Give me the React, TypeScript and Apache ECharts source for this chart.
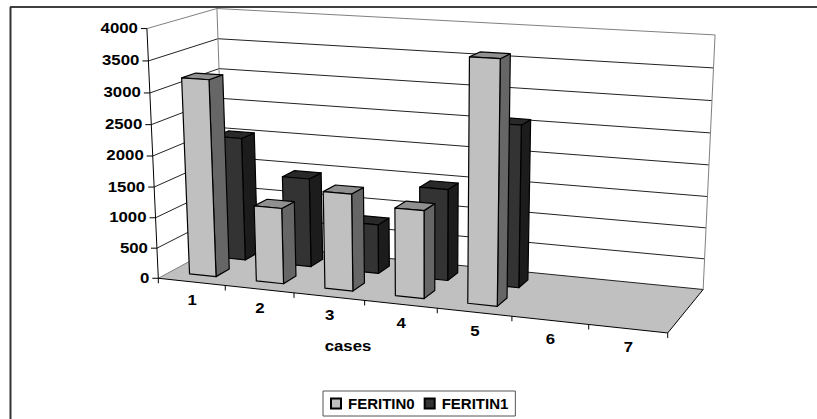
import React, { useEffect, useRef } from "react";
import * as echarts from "echarts";

const categories = ["1", "2", "3", "4", "5", "6", "7"];
const yTicks = [0, 500, 1000, 1500, 2000, 2500, 3000, 3500, 4000];
const feritin0 = [3190, 1230, 1560, 1400, 3790];
const feritin1 = [2050, 1470, 810, 1490, 2600];

const GW = 700, GH = 400;
const FONT = "'Liberation Sans', Arial, sans-serif";

// Camera calibration: cube corners (u, v, w in 0..1) -> picture pixels
const calib: number[][] = [
  [0, 0, 0, 158, 278],
  [0, 1, 0, 147, 29],
  [0, 1, 1, 217, 8],
  [1, 1, 1, 715, 35],
  [1, 0, 1, 703, 289],
  [1, 0, 0, 668, 333],
  [0, 0, 1, 225, 243],
  [1 / 7, 0, 0, 226, 285],
  [3 / 7, 0, 0, 364, 300],
  [5 / 7, 0, 0, 512, 317],
  [0, 0.5, 0, 152.5, 156],
  [1, 0.5, 1, 709, 165],
];

function solveCamera(): number[] {
  const rows: number[][] = [];
  const rhs: number[] = [];
  for (const [u, v, w, x, y] of calib) {
    rows.push([u, v, w, 1, 0, 0, 0, 0, -x * u, -x * v, -x * w]);
    rhs.push(x);
    rows.push([0, 0, 0, 0, u, v, w, 1, -y * u, -y * v, -y * w]);
    rhs.push(y);
  }
  const n = 11;
  const A = Array.from({ length: n }, () => new Array(n + 1).fill(0));
  rows.forEach((r, k) => {
    for (let i = 0; i < n; i++) {
      for (let j = 0; j < n; j++) A[i][j] += r[i] * r[j];
      A[i][n] += r[i] * rhs[k];
    }
  });
  for (let c = 0; c < n; c++) {
    let p = c;
    for (let r = c + 1; r < n; r++) if (Math.abs(A[r][c]) > Math.abs(A[p][c])) p = r;
    [A[c], A[p]] = [A[p], A[c]];
    for (let r = 0; r < n; r++) {
      if (r === c) continue;
      const f = A[r][c] / A[c][c];
      for (let j = c; j <= n; j++) A[r][j] -= f * A[c][j];
    }
  }
  return A.map((r, i) => r[n] / r[i]);
}

const M = solveCamera();
function project(u: number, v: number, w: number): number[] {
  const d = M[8] * u + M[9] * v + M[10] * w + 1;
  return [
    (M[0] * u + M[1] * v + M[2] * w + M[3]) / d,
    (M[4] * u + M[5] * v + M[6] * w + M[7]) / d,
  ];
}

const poly = (points: number[][], fill: string, stroke: string, lineWidth = 1.2) => ({
  type: "polygon",
  shape: { points },
  style: { fill, stroke, lineWidth, lineJoin: "round" },
});
const line = (a: number[], b: number[], stroke: string, lineWidth = 1) => ({
  type: "line",
  shape: { x1: a[0], y1: a[1], x2: b[0], y2: b[1] },
  style: { stroke, lineWidth },
});
const label = (text: string, x: number, y: number, align: string) => ({
  type: "text",
  x,
  y,
  scaleX: 1.2,
  style: {
    text,
    fill: "#000",
    font: `bold 14px ${FONT}`,
    textAlign: align,
    textVerticalAlign: "middle",
  },
});

function bar(
  api: any,
  wFront: number,
  wBack: number,
  colors: { front: string; side: string; top: string }
) {
  const c = api.coord([api.value(0), api.value(1)]);
  const band = api.size([1, 0])[0];
  const uc = c[0] / GW;
  const half = (0.2 * band) / GW;
  const v = (GH - c[1]) / GH;
  const u0 = uc - half - 0.001, u1 = uc + half - 0.001;
  const fl0 = project(u0, 0, wFront), fr0 = project(u1, 0, wFront), br0 = project(u1, 0, wBack);
  const fl1 = project(u0, v, wFront), fr1 = project(u1, v, wFront);
  const br1 = project(u1, v, wBack), bl1 = project(u0, v, wBack);
  return {
    type: "group",
    children: [
      poly([fr0, br0, br1, fr1], colors.side, "#000"),
      poly([fl1, fr1, br1, bl1], colors.top, "#000"),
      poly([fl0, fr0, fr1, fl1], colors.front, "#000"),
    ],
  };
}

function renderFrame(_p: any, api: any) {
  const children: any[] = [];
  const A = project(0, 0, 0), B = project(0, 1, 0), C = project(0, 1, 1), D = project(1, 1, 1);
  const E = project(1, 0, 1), F = project(1, 0, 0), G = project(0, 0, 1);

  children.push(poly([A, F, E, G], "#c0c0c0", "none", 0));
  yTicks.forEach((t, i) => {
    const v = (GH - api.coord([0, t])[1]) / GH;
    const a = project(0, v, 0), b = project(0, v, 1), c = project(1, v, 1);
    const col = i === yTicks.length - 1 ? "#808080" : "#222";
    children.push(line(a, b, i === 0 ? "#808080" : col));
    children.push(line(b, c, col));
    children.push(line([a[0] - 6, a[1]], a, "#000"));
    children.push(label(String(t), a[0] - 9, a[1] - 0.5, "right"));
  });
  children.push(line(C, G, "#808080"));
  children.push(line(D, E, "#808080"));
  children.push(line(A, B, "#000"));
  children.push(line(A, F, "#000"));
  children.push(line(F, E, "#000"));

  const band = api.size([1, 0])[0];
  categories.forEach((cat, i) => {
    const xc = api.coord([i, 0])[0];
    const u1 = (xc + band / 2) / GW;
    const t = project(u1, 0, 0);
    children.push(line(t, [t[0], t[1] + 5], "#000"));
    const m = project(xc / GW, 0, 0);
    children.push(label(cat, m[0] + 0.5, m[1] + 18.5, "center"));
  });
  const a0 = project(0, 0, 0);
  children.push(line(a0, [a0[0], a0[1] + 5], "#000"));
  children.push(label("cases", 348, 346, "center"));
  return { type: "group", children };
}

const lightColors = { front: "#c0c0c0", side: "#666666", top: "#909090" };
const darkColors = { front: "#333333", side: "#1c1c1c", top: "#292929" };

export default function App() {
  const ref = useRef<HTMLDivElement>(null);
  useEffect(() => {
    document.body.style.margin = "0";
    document.body.style.background = "#fff";
    const chart = echarts.init(ref.current!, null, { renderer: "svg" });
    chart.setOption({
      animation: false,
      backgroundColor: "#fff",
      grid: { left: 0, top: 0, width: GW, height: GH, show: false },
      xAxis: { type: "category", data: categories, show: false },
      yAxis: { type: "value", min: 0, max: 4000, interval: 500, show: false },
      legend: {
        left: 323,
        top: 391,
        itemWidth: 10,
        itemHeight: 10,
        itemGap: 9,
        padding: [5, 7, 5, 7],
        borderColor: "#555",
        borderWidth: 1,
        borderRadius: 0,
        icon: "rect",
        textStyle: { fontFamily: FONT, fontWeight: "bold", fontSize: 15, color: "#000", padding: [0, 0, 0, 2] },
        data: ["FERITIN0", "FERITIN1"],
      },
      graphic: [
        { type: "line", z: 0, shape: { x1: 10, y1: 7, x2: 817, y2: 7 }, style: { stroke: "#000", lineWidth: 1.5 } },
        { type: "line", z: 0, shape: { x1: 10.5, y1: 7, x2: 10.5, y2: 419 }, style: { stroke: "#333", lineWidth: 2 } },
      ],
      series: [
        {
          type: "custom",
          name: "frame",
          coordinateSystem: "cartesian2d",
          z: 1,
          silent: true,
          data: [[0, 0]],
          renderItem: renderFrame,
        },
        {
          type: "custom",
          name: "FERITIN1",
          coordinateSystem: "cartesian2d",
          z: 2,
          itemStyle: { color: darkColors.front, borderColor: "#000", borderWidth: 1 },
          data: feritin1.map((v, i) => [i, v]),
          renderItem: (_p: any, api: any) => bar(api, 0.62, 0.82, darkColors),
        },
        {
          type: "custom",
          name: "FERITIN0",
          coordinateSystem: "cartesian2d",
          z: 3,
          itemStyle: { color: lightColors.front, borderColor: "#000", borderWidth: 1 },
          data: feritin0.map((v, i) => [i, v]),
          renderItem: (_p: any, api: any) => bar(api, 0.17, 0.37, lightColors),
        },
      ],
    });
    return () => chart.dispose();
  }, []);
  return <div ref={ref} style={{ width: 817, height: 419 }} />;
}
